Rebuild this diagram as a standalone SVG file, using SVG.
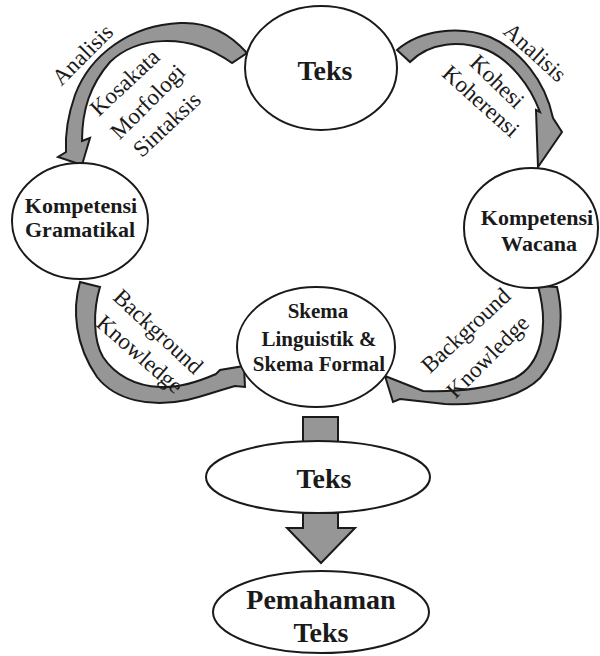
<svg xmlns="http://www.w3.org/2000/svg" width="600" height="656" viewBox="0 0 600 656">
<style>
.node{fill:#fff;stroke:#1a1a1a;stroke-width:2}
.arr{fill:#969696;stroke:#1a1a1a;stroke-width:2;stroke-linejoin:miter}
.nt{font-family:"Liberation Serif","Times New Roman",serif;font-weight:bold;fill:#1a1a1a;text-anchor:middle}
.lt{font-family:"Liberation Serif","Times New Roman",serif;font-size:23px;fill:#1a1a1a;text-anchor:middle}
</style>
<rect width="600" height="656" fill="#fff"/>
<g id="connectors">
<path class="arr" d="M247,53 C225,28 200,22 180,23 C130,25 90,55 75,95 C68,115 65,135 66,152 L58,157 L82,165 L90,138 L82,141 C82,110 90,85 110,62 C135,38 185,30 232,63 Z"/>
<path class="arr" d="M397,50 C420,30 460,25 490,37 C520,50 545,80 553,118 L562,132 L538,167 L536,110 L540,112 C530,85 510,60 487,50 C460,40 430,42 410,62 Z"/>
<path class="arr" d="M80,282 C72,310 75,345 97,377 C115,400 150,408 187,400 C205,396 220,390 235,386 L245,387 L244,366 L220,370 L216,374 C200,381 180,388 160,387 C135,386 115,375 103,357 C93,340 93,310 100,287 Z"/>
<path class="arr" d="M557,287 C565,320 560,355 540,378 C520,398 480,406 445,404 L400,399 L393,402 L385,376 L418,389 L423,391 C450,392 485,390 515,378 C540,365 550,330 538,286 Z"/>
<rect class="arr" x="303" y="417" width="35" height="26"/>
<path class="arr" d="M303,513 L303,528 L287,528 L321,563 L355,528 L338,528 L338,513 Z"/>
</g>
<g id="labels">
<text class="lt" transform="translate(88,60) rotate(-45)">Analisis</text>
<text class="lt" transform="translate(130,88) rotate(-43)">Kosakata</text>
<text class="lt" transform="translate(153,107) rotate(-45)">Morfologi</text>
<text class="lt" transform="translate(172,130) rotate(-43)">Sintaksis</text>
<text class="lt" transform="translate(530,58) rotate(42)">Analisis</text>
<text class="lt" transform="translate(492,87) rotate(44)">Kohesi</text>
<text class="lt" transform="translate(476,107) rotate(42)">Koherensi</text>
<text class="lt" transform="translate(153,337) rotate(43)">Background</text>
<text class="lt" transform="translate(135,360) rotate(41)">Knowledge</text>
<text class="lt" transform="translate(471,336) rotate(-43)">Background</text>
<text class="lt" transform="translate(493,362) rotate(-45)">Knowledge</text>
</g>
<g id="teks-top">
<ellipse class="node" cx="321" cy="68" rx="76" ry="62"/>
<text class="nt" x="325" y="80" font-size="28">Teks</text>
</g>
<g id="kompetensi-gramatikal">
<ellipse class="node" cx="80" cy="221" rx="68" ry="58"/>
<text class="nt" x="81" y="213" font-size="22">Kompetensi</text>
<text class="nt" x="80" y="237" font-size="22">Gramatikal</text>
</g>
<g id="kompetensi-wacana">
<ellipse class="node" cx="531" cy="228" rx="67" ry="60"/>
<text class="nt" x="537" y="225" font-size="22">Kompetensi</text>
<text class="nt" x="539" y="251" font-size="22">Wacana</text>
</g>
<g id="skema">
<ellipse class="node" cx="316" cy="347" rx="79" ry="60"/>
<text class="nt" x="318" y="318" font-size="21">Skema</text>
<text class="nt" x="319" y="346" font-size="21">Linguistik &amp;</text>
<text class="nt" x="319" y="371" font-size="21">Skema Formal</text>
</g>
<g id="teks-mid">
<ellipse class="node" cx="318" cy="477" rx="112" ry="36"/>
<text class="nt" x="324" y="488" font-size="28">Teks</text>
</g>
<g id="pemahaman">
<ellipse class="node" cx="321" cy="612" rx="108" ry="41"/>
<text class="nt" x="321" y="609" font-size="28">Pemahaman</text>
<text class="nt" x="321" y="642" font-size="28">Teks</text>
</g>
</svg>
